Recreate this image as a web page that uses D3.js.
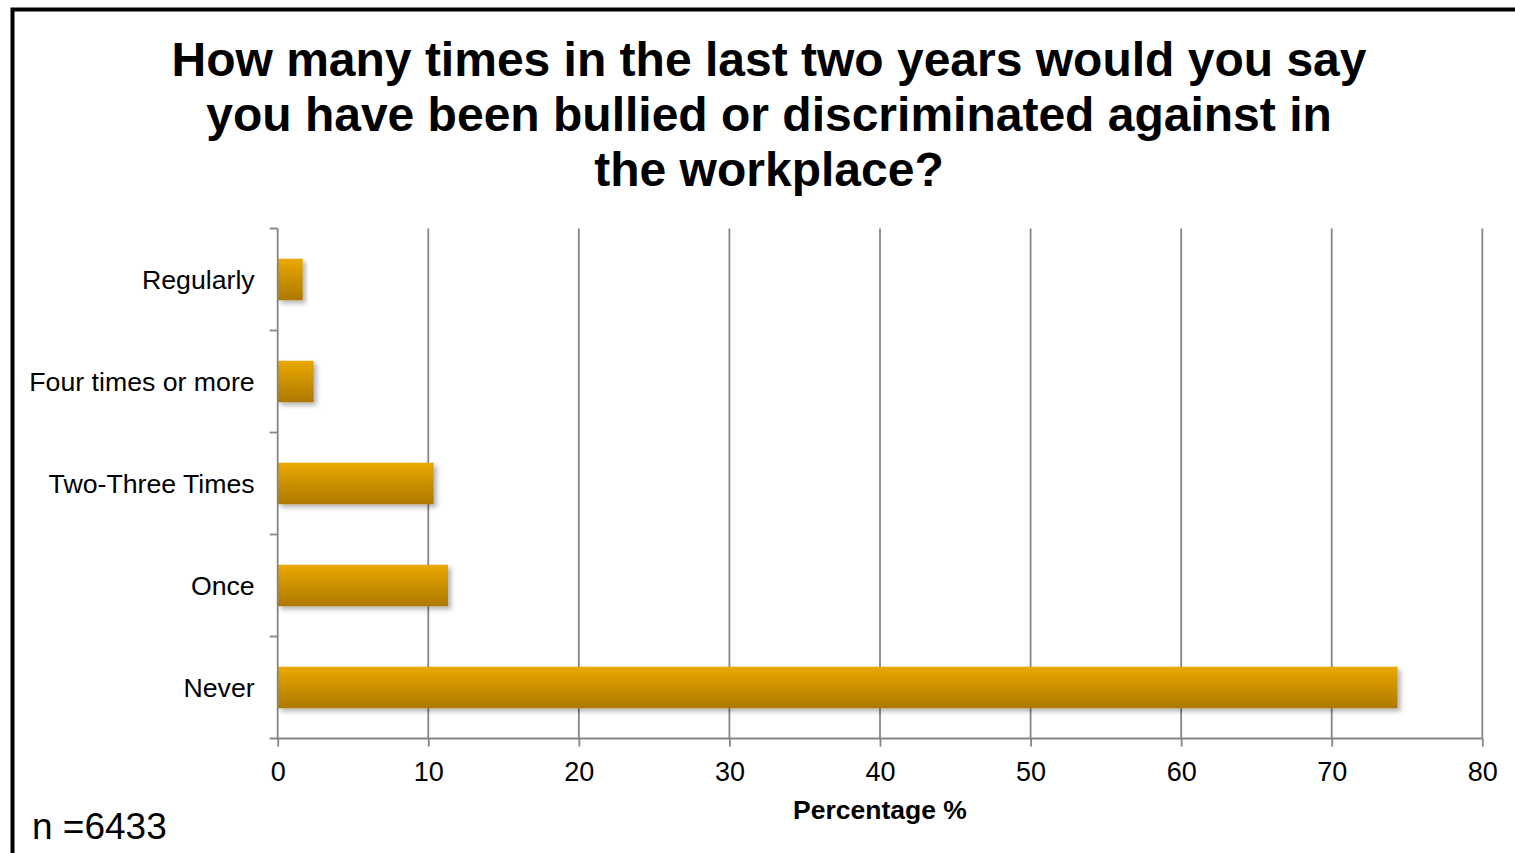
<!DOCTYPE html>
<html>
<head>
<meta charset="utf-8">
<script src="https://cdn.jsdelivr.net/npm/d3@7"></script>
<style>
  html, body { margin: 0; padding: 0; background: #fff; }
  svg { display: block; font-family: "Liberation Sans", Arial, sans-serif; }
</style>
</head>
<body>
<svg id="chart" width="1515" height="853"></svg>
<script>
// Survey responses: share of respondents (%) per frequency category
const categories = ["Regularly", "Four times or more", "Two-Three Times", "Once", "Never"];
const percentages = [1.66, 2.39, 10.36, 11.31, 74.37];
const xTicks = [0, 10, 20, 30, 40, 50, 60, 70, 80];
const titleLines = [
  "How many times in the last two years would you say",
  "you have been bullied or discriminated against in",
  "the workplace?"
];
const xAxisTitle = "Percentage %";
const sampleNote = "n =6433";

(function () {
  const svg = d3.select("#chart");
  const axisGrey = "#858585";

  // Frame around the whole chart
  svg.append("rect")
    .attr("x", 12.5).attr("y", 9.5)
    .attr("width", 1540).attr("height", 880)
    .attr("fill", "#fff")
    .attr("stroke", "#000")
    .attr("stroke-width", 4);

  const defs = svg.append("defs");
  const grad = defs.append("linearGradient")
    .attr("id", "barFill").attr("x1", 0).attr("y1", 0).attr("x2", 0).attr("y2", 1);
  grad.append("stop").attr("offset", "0%").attr("stop-color", "#eaa900");
  grad.append("stop").attr("offset", "100%").attr("stop-color", "#ad7800");

  const shadow = defs.append("filter").attr("id", "barShadow")
    .attr("x", "-10%").attr("y", "-30%").attr("width", "130%").attr("height", "180%");
  shadow.append("feDropShadow")
    .attr("dx", 3).attr("dy", 3).attr("stdDeviation", 2.5)
    .attr("flood-color", "#000").attr("flood-opacity", 0.3);

  const plotLeft = 277.7, plotRight = 1482.3, plotTop = 228.5, plotBottom = 738.5;

  const x = d3.scaleLinear().domain([0, 80]).range([plotLeft, plotRight]);
  const y = d3.scaleBand().domain(categories).range([plotTop, plotBottom])
    .paddingInner(0.593).paddingOuter(0.2965);

  // Vertical gridlines
  svg.append("g")
    .selectAll("line")
    .data(xTicks.filter(d => d > 0))
    .join("line")
    .attr("x1", d => x(d)).attr("x2", d => x(d))
    .attr("y1", plotTop).attr("y2", plotBottom)
    .attr("stroke", axisGrey).attr("stroke-width", 1.8);

  // Bars
  svg.append("g")
    .selectAll("rect")
    .data(categories.map((c, i) => ({ c, v: percentages[i] })))
    .join("rect")
    .attr("x", x(0))
    .attr("y", d => y(d.c))
    .attr("width", d => x(d.v) - x(0))
    .attr("height", y.bandwidth())
    .attr("fill", "url(#barFill)")
    .attr("filter", "url(#barShadow)");

  // Category axis with ticks on band boundaries
  const yAxisG = svg.append("g");
  yAxisG.append("line")
    .attr("x1", plotLeft).attr("x2", plotLeft).attr("y1", plotTop).attr("y2", plotBottom)
    .attr("stroke", axisGrey).attr("stroke-width", 1.8);
  const boundaries = categories.map(c => y(c) - y.step() * y.paddingInner() / 2);
  yAxisG.selectAll("line.tick")
    .data(boundaries)
    .join("line").attr("class", "tick")
    .attr("x1", plotLeft - 8).attr("x2", plotLeft)
    .attr("y1", d => d).attr("y2", d => d)
    .attr("stroke", axisGrey).attr("stroke-width", 1.8);
  yAxisG.selectAll("text")
    .data(categories)
    .join("text")
    .attr("x", plotLeft - 23)
    .attr("y", d => y(d) + y.bandwidth() / 2 + 9.5)
    .attr("text-anchor", "end")
    .attr("font-size", 26.7)
    .attr("fill", "#000")
    .text(d => d);

  // Value axis
  const xAxisG = svg.append("g").attr("transform", `translate(0,${plotBottom})`);
  xAxisG.call(d3.axisBottom(x).tickValues(xTicks).tickSize(8).tickPadding(8).tickFormat(d3.format("d")));
  xAxisG.select(".domain")
    .attr("d", `M${plotLeft - 8},0H${plotRight}`)
    .attr("stroke", axisGrey).attr("stroke-width", 1.8);
  xAxisG.selectAll(".tick line").attr("stroke", axisGrey).attr("stroke-width", 1.8);
  xAxisG.selectAll(".tick text")
    .attr("font-family", "Liberation Sans, Arial, sans-serif")
    .attr("font-size", 27).attr("fill", "#000")
    .attr("dy", null).attr("y", 42);

  svg.append("text")
    .attr("x", x(40)).attr("y", 819)
    .attr("text-anchor", "middle")
    .attr("font-size", 26.5).attr("font-weight", "bold")
    .text(xAxisTitle);

  // Title
  svg.append("g").selectAll("text")
    .data(titleLines)
    .join("text")
    .attr("x", 769)
    .attr("y", (d, i) => 76 + i * 55)
    .attr("text-anchor", "middle")
    .attr("font-size", 48).attr("font-weight", "bold")
    .text(d => d);

  svg.append("text")
    .attr("x", 32).attr("y", 839)
    .attr("font-size", 37)
    .text(sampleNote);
})();
</script>
</body>
</html>
